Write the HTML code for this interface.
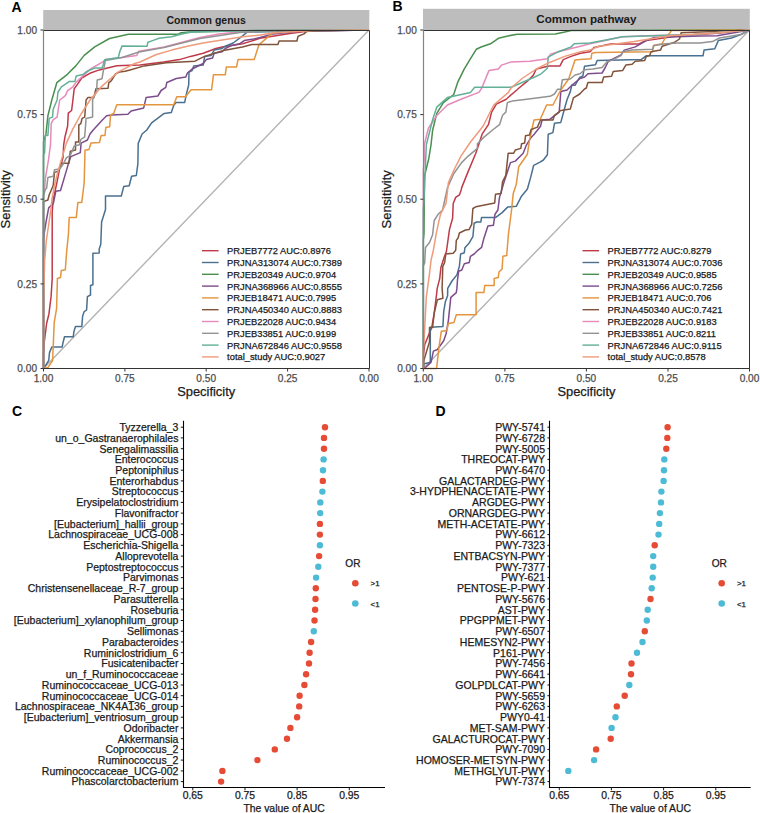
<!DOCTYPE html><html><head><meta charset="utf-8"><style>html,body{margin:0;padding:0;background:#fff;width:760px;height:813px;overflow:hidden}svg{display:block}text{font-family:"Liberation Sans",sans-serif}</style></head><body>
<svg width="760" height="813" viewBox="0 0 760 813">
<rect width="760" height="813" fill="#fff"/>
<rect x="43.2" y="10.0" width="326.1" height="20.0" fill="#bdbdbd"/>
<text x="206.2" y="23.7" font-size="10.5" text-anchor="middle" font-weight="bold" fill="#1a1a1a"  >Common genus</text>
<line x1="43.5" y1="368.5" x2="369.0" y2="30.0" stroke="#b3b3b3" stroke-width="1.4"/>
<polyline points="43.5,368.5 43.5,362.0 43.3,356.3 44.4,340.8 46.7,323.0 48.9,314.2 51.1,296.4 52.2,278.7 52.2,212.2 53.2,200.0 57.1,181.6 59.7,168.4 63.0,157.9 63.7,144.7 65.0,136.8 67.6,126.3 68.3,113.2 71.6,110.5 72.9,100.0 74.2,88.8 77.6,84.1 81.7,78.0 89.8,73.3 99.3,69.9 107.4,67.9 116.9,65.8 130.0,65.2 140.0,65.0 163.7,62.0 179.5,59.6 190.5,56.4 203.2,53.3 215.8,48.5 222.1,46.9 231.6,45.4 242.6,43.8 250.5,41.4 260.0,38.3 289.8,33.5 308.7,31.0 369.0,30.0" fill="none" stroke="#bf3a48" stroke-width="1.5" stroke-linejoin="round" stroke-opacity="1.0"/>
<polyline points="43.5,368.5 44.7,366.8 48.7,360.5 49.5,352.6 51.8,347.1 62.1,347.1 62.9,343.2 64.5,336.8 73.2,336.8 74.0,331.3 75.5,326.6 81.8,326.6 82.6,316.3 84.2,311.6 86.6,310.0 87.4,296.6 90.5,295.0 90.5,285.5 92.9,284.7 92.9,253.2 99.2,253.0 99.2,249.0 100.8,244.2 101.6,222.0 105.5,209.5 105.5,196.0 121.3,196.0 123.7,186.6 129.2,185.8 131.6,176.3 136.3,175.5 137.9,163.7 138.2,143.4 142.1,134.0 146.8,130.0 151.6,122.9 164.2,113.4 171.3,112.6 173.7,105.5 176.1,102.4 184.7,102.4 186.3,94.5 188.7,85.0 189.0,72.2 192.1,70.6 193.7,65.9 203.2,65.1 204.7,56.4 211.0,55.6 214.2,50.1 222.1,48.5 225.3,46.2 233.2,43.0 242.6,35.9 247.4,32.0 369.0,30.0" fill="none" stroke="#4a7090" stroke-width="1.5" stroke-linejoin="round" stroke-opacity="1.0"/>
<polyline points="43.5,368.5 43.5,142.0 45.9,134.2 47.9,115.8 51.8,100.0 56.8,82.7 67.4,74.3 75.8,65.9 84.2,55.4 94.7,46.9 109.5,38.5 128.4,34.3 149.5,34.3 177.9,34.3 181.0,32.7 189.0,32.0 260.0,30.4 369.0,30.0" fill="none" stroke="#4a8f4e" stroke-width="1.5" stroke-linejoin="round" stroke-opacity="1.0"/>
<polyline points="43.5,368.5 43.5,240.0 44.0,234.7 46.3,220.5 48.7,207.9 53.4,203.2 55.8,191.3 60.5,190.5 66.1,171.6 68.4,163.7 70.8,156.6 80.3,152.6 81.1,143.2 87.4,140.0 90.0,134.0 93.2,130.0 102.6,119.7 106.6,115.8 111.3,115.0 127.9,114.2 131.1,111.0 143.7,107.9 146.1,97.6 157.9,96.0 161.1,90.5 165.8,87.4 166.8,82.5 176.3,78.5 185.8,77.0 187.4,73.0 192.1,69.0 203.2,63.5 206.3,59.6 212.6,58.0 214.2,53.3 222.1,51.7 225.3,48.5 231.6,45.4 239.5,43.8 244.2,40.6 253.7,39.0 260.0,37.5 273.2,33.9 304.0,30.8 369.0,30.0" fill="none" stroke="#7d4c8c" stroke-width="1.5" stroke-linejoin="round" stroke-opacity="1.0"/>
<polyline points="43.5,368.5 47.9,367.6 52.6,360.5 54.2,322.6 56.6,308.4 57.4,278.4 60.5,277.6 61.3,270.5 65.3,269.7 66.8,250.0 68.4,234.7 69.2,217.4 76.3,217.4 77.9,202.4 81.8,202.4 84.2,182.6 85.0,150.3 89.0,149.5 91.0,143.0 99.5,142.6 101.1,135.5 105.0,135.5 105.8,127.6 109.7,126.8 110.5,115.0 113.7,113.4 116.8,104.7 173.7,104.7 176.8,96.8 185.5,96.8 191.1,89.7 211.6,89.7 213.5,74.7 225.3,74.7 226.3,67.1 236.5,67.1 238.1,59.5 254.2,59.5 259.0,44.6 266.1,38.7 273.2,32.3 275.6,30.4 369.0,30.0" fill="none" stroke="#e3953f" stroke-width="1.5" stroke-linejoin="round" stroke-opacity="1.0"/>
<polyline points="43.5,368.5 43.5,201.6 47.9,200.0 49.2,194.7 53.2,185.5 54.5,172.4 58.4,171.1 61.1,163.2 68.9,163.2 70.3,151.3 75.5,150.0 75.5,142.1 78.8,142.1 78.8,125.0 80.8,123.7 82.1,118.4 84.7,117.1 86.1,100.0 87.8,97.6 93.8,97.6 95.9,88.8 108.1,88.2 108.7,82.8 111.4,80.7 115.5,74.0 119.6,71.9 125.0,71.2 130.0,69.9 144.2,65.9 166.3,62.7 195.0,61.2 204.5,56.4 223.4,50.5 242.4,47.0 251.9,44.6 277.9,44.6 279.1,41.0 296.9,41.0 298.1,36.3 304.0,33.9 306.4,31.6 318.2,30.4 369.0,30.0" fill="none" stroke="#80533a" stroke-width="1.5" stroke-linejoin="round" stroke-opacity="1.0"/>
<polyline points="43.5,368.5 43.5,195.0 44.6,189.5 45.3,178.9 46.6,171.1 48.6,159.2 50.5,144.7 51.2,123.7 53.2,119.7 57.1,117.1 59.7,100.0 65.4,95.6 67.4,90.9 72.9,86.8 76.2,82.1 90.5,69.0 103.2,61.7 105.3,59.6 122.1,57.5 136.8,55.4 139.0,51.2 164.2,47.0 200.0,37.5 218.7,33.9 242.4,31.6 266.1,30.4 369.0,30.0" fill="none" stroke="#e68abb" stroke-width="1.5" stroke-linejoin="round" stroke-opacity="1.0"/>
<polyline points="43.5,368.5 43.5,196.0 45.3,189.5 46.6,188.2 47.9,177.6 53.2,176.3 54.5,169.7 59.7,169.0 63.7,163.2 66.3,157.9 70.3,155.3 74.2,146.1 79.5,144.7 80.8,139.5 84.7,136.8 86.1,118.4 92.6,117.1 92.6,100.0 93.2,98.3 96.6,91.6 97.2,80.0 102.0,78.7 103.3,71.2 105.4,60.4 122.0,57.5 139.0,52.0 164.0,47.5 200.0,38.5 240.0,32.5 280.0,30.5 369.0,30.0" fill="none" stroke="#939393" stroke-width="1.5" stroke-linejoin="round" stroke-opacity="1.0"/>
<polyline points="43.5,368.5 43.5,155.0 44.6,152.6 45.3,135.5 47.9,135.5 49.2,118.4 52.5,117.1 53.2,109.2 57.1,100.0 58.0,92.0 61.4,86.8 69.5,81.4 74.9,81.4 76.2,76.0 83.0,74.6 87.1,71.2 95.2,67.9 102.0,67.9 103.3,64.5 104.7,59.7 112.8,58.4 118.2,57.7 120.0,51.0 122.1,45.9 147.1,46.2 147.9,42.2 152.6,40.6 159.0,38.3 171.6,36.7 177.9,35.1 184.2,33.5 192.1,32.0 260.0,30.5 369.0,30.0" fill="none" stroke="#62b098" stroke-width="1.5" stroke-linejoin="round" stroke-opacity="1.0"/>
<polyline points="43.5,368.5 43.5,300.0 44.7,260.0 46.3,241.0 51.1,207.9 51.8,200.0 54.5,185.5 58.4,169.7 62.4,156.6 66.3,143.4 72.9,128.9 80.8,114.5 90.0,100.0 101.1,86.9 117.9,72.2 134.7,63.5 140.0,62.0 155.8,54.8 171.6,50.1 187.4,46.2 203.2,43.0 219.0,40.6 242.6,36.7 260.0,35.1 273.2,33.0 313.5,30.4 369.0,30.0" fill="none" stroke="#ee9b7c" stroke-width="1.5" stroke-linejoin="round" stroke-opacity="1.0"/>
<polyline points="43.5,30.5 369.5,30.5 369.5,368.5 43.5,368.5" fill="none" stroke="#333333" stroke-width="1"/>
<line x1="43.5" y1="30.0" x2="43.5" y2="368.5" stroke="#858585" stroke-width="1.2"/>
<line x1="40.5" y1="368.5" x2="43.5" y2="368.5" stroke="#333" stroke-width="1"/>
<text x="37.0" y="372.1" font-size="10.1" text-anchor="end" font-weight="normal" fill="#4d4d4d" stroke="#4d4d4d" stroke-width="0.25" >0.00</text>
<line x1="40.5" y1="283.9" x2="43.5" y2="283.9" stroke="#333" stroke-width="1"/>
<text x="37.0" y="287.5" font-size="10.1" text-anchor="end" font-weight="normal" fill="#4d4d4d" stroke="#4d4d4d" stroke-width="0.25" >0.25</text>
<line x1="40.5" y1="199.2" x2="43.5" y2="199.2" stroke="#333" stroke-width="1"/>
<text x="37.0" y="202.8" font-size="10.1" text-anchor="end" font-weight="normal" fill="#4d4d4d" stroke="#4d4d4d" stroke-width="0.25" >0.50</text>
<line x1="40.5" y1="114.6" x2="43.5" y2="114.6" stroke="#333" stroke-width="1"/>
<text x="37.0" y="118.2" font-size="10.1" text-anchor="end" font-weight="normal" fill="#4d4d4d" stroke="#4d4d4d" stroke-width="0.25" >0.75</text>
<line x1="40.5" y1="30.0" x2="43.5" y2="30.0" stroke="#333" stroke-width="1"/>
<text x="37.0" y="33.6" font-size="10.1" text-anchor="end" font-weight="normal" fill="#4d4d4d" stroke="#4d4d4d" stroke-width="0.25" >1.00</text>
<line x1="43.5" y1="368.5" x2="43.5" y2="371.5" stroke="#333" stroke-width="1"/>
<text x="43.5" y="381.8" font-size="10.1" text-anchor="middle" font-weight="normal" fill="#4d4d4d" stroke="#4d4d4d" stroke-width="0.25" >1.00</text>
<line x1="124.9" y1="368.5" x2="124.9" y2="371.5" stroke="#333" stroke-width="1"/>
<text x="124.9" y="381.8" font-size="10.1" text-anchor="middle" font-weight="normal" fill="#4d4d4d" stroke="#4d4d4d" stroke-width="0.25" >0.75</text>
<line x1="206.2" y1="368.5" x2="206.2" y2="371.5" stroke="#333" stroke-width="1"/>
<text x="206.2" y="381.8" font-size="10.1" text-anchor="middle" font-weight="normal" fill="#4d4d4d" stroke="#4d4d4d" stroke-width="0.25" >0.50</text>
<line x1="287.6" y1="368.5" x2="287.6" y2="371.5" stroke="#333" stroke-width="1"/>
<text x="287.6" y="381.8" font-size="10.1" text-anchor="middle" font-weight="normal" fill="#4d4d4d" stroke="#4d4d4d" stroke-width="0.25" >0.25</text>
<line x1="369.0" y1="368.5" x2="369.0" y2="371.5" stroke="#333" stroke-width="1"/>
<text x="369.0" y="381.8" font-size="10.1" text-anchor="middle" font-weight="normal" fill="#4d4d4d" stroke="#4d4d4d" stroke-width="0.25" >0.00</text>
<text x="206.2" y="395.5" font-size="12.9" text-anchor="middle" font-weight="normal" fill="#1a1a1a" stroke="#1a1a1a" stroke-width="0.25" >Specificity</text>
<text x="10.5" y="199.3" font-size="12.95" text-anchor="middle" font-weight="normal" fill="#1a1a1a" stroke="#1a1a1a" stroke-width="0.25" transform="rotate(-90 10.5 199.3)">Sensitivity</text>
<text x="11.5" y="12.0" font-size="14" text-anchor="start" font-weight="bold" fill="#000"  >A</text>
<line x1="202.0" y1="250.7" x2="218.6" y2="250.7" stroke="#bf3a48" stroke-width="1.4"/>
<text x="227.1" y="254.1" font-size="9.35" text-anchor="start" font-weight="normal" fill="#1a1a1a" stroke="#1a1a1a" stroke-width="0.25" >PRJEB7772 AUC:0.8976</text>
<line x1="202.0" y1="262.5" x2="218.6" y2="262.5" stroke="#4a7090" stroke-width="1.4"/>
<text x="227.1" y="265.9" font-size="9.35" text-anchor="start" font-weight="normal" fill="#1a1a1a" stroke="#1a1a1a" stroke-width="0.25" >PRJNA313074 AUC:0.7389</text>
<line x1="202.0" y1="274.3" x2="218.6" y2="274.3" stroke="#4a8f4e" stroke-width="1.4"/>
<text x="227.1" y="277.7" font-size="9.35" text-anchor="start" font-weight="normal" fill="#1a1a1a" stroke="#1a1a1a" stroke-width="0.25" >PRJEB20349 AUC:0.9704</text>
<line x1="202.0" y1="286.1" x2="218.6" y2="286.1" stroke="#7d4c8c" stroke-width="1.4"/>
<text x="227.1" y="289.5" font-size="9.35" text-anchor="start" font-weight="normal" fill="#1a1a1a" stroke="#1a1a1a" stroke-width="0.25" >PRJNA368966 AUC:0.8555</text>
<line x1="202.0" y1="297.9" x2="218.6" y2="297.9" stroke="#e3953f" stroke-width="1.4"/>
<text x="227.1" y="301.3" font-size="9.35" text-anchor="start" font-weight="normal" fill="#1a1a1a" stroke="#1a1a1a" stroke-width="0.25" >PRJEB18471 AUC:0.7995</text>
<line x1="202.0" y1="309.7" x2="218.6" y2="309.7" stroke="#80533a" stroke-width="1.4"/>
<text x="227.1" y="313.1" font-size="9.35" text-anchor="start" font-weight="normal" fill="#1a1a1a" stroke="#1a1a1a" stroke-width="0.25" >PRJNA450340 AUC:0.8883</text>
<line x1="202.0" y1="321.5" x2="218.6" y2="321.5" stroke="#e68abb" stroke-width="1.4"/>
<text x="227.1" y="324.9" font-size="9.35" text-anchor="start" font-weight="normal" fill="#1a1a1a" stroke="#1a1a1a" stroke-width="0.25" >PRJEB22028 AUC:0.9434</text>
<line x1="202.0" y1="333.3" x2="218.6" y2="333.3" stroke="#939393" stroke-width="1.4"/>
<text x="227.1" y="336.7" font-size="9.35" text-anchor="start" font-weight="normal" fill="#1a1a1a" stroke="#1a1a1a" stroke-width="0.25" >PRJEB33851 AUC:0.9199</text>
<line x1="202.0" y1="345.1" x2="218.6" y2="345.1" stroke="#62b098" stroke-width="1.4"/>
<text x="227.1" y="348.5" font-size="9.35" text-anchor="start" font-weight="normal" fill="#1a1a1a" stroke="#1a1a1a" stroke-width="0.25" >PRJNA672846 AUC:0.9558</text>
<line x1="202.0" y1="356.9" x2="218.6" y2="356.9" stroke="#ee9b7c" stroke-width="1.4"/>
<text x="227.1" y="360.3" font-size="9.35" text-anchor="start" font-weight="normal" fill="#1a1a1a" stroke="#1a1a1a" stroke-width="0.25" >total_study AUC:0.9027</text>
<rect x="423.0" y="8.8" width="326.8" height="21.2" fill="#bdbdbd"/>
<text x="586.4" y="23.4" font-size="11.65" text-anchor="middle" font-weight="bold" fill="#1a1a1a"  >Common pathway</text>
<line x1="423.3" y1="368.5" x2="749.5" y2="30.0" stroke="#b3b3b3" stroke-width="1.4"/>
<polyline points="423.3,368.5 423.3,356.0 423.9,351.1 424.7,344.7 427.9,336.8 431.8,327.4 434.2,313.2 436.6,294.2 437.2,288.4 439.7,278.6 440.9,267.5 444.0,257.7 446.4,251.5 449.5,229.4 452.6,218.3 453.2,203.5 455.7,197.4 459.4,194.9 461.2,190.0 461.6,187.9 467.9,172.1 475.8,153.2 479.0,143.7 482.1,134.2 488.4,124.7 491.6,112.1 496.3,104.2 505.8,99.5 516.8,90.0 519.0,88.0 526.8,81.7 533.2,75.4 536.3,69.0 548.9,65.9 560.0,65.9 563.2,59.6 571.1,56.4 580.5,53.3 590.0,51.7 594.0,47.5 610.5,44.0 639.0,44.0 646.1,40.4 679.3,35.7 717.2,33.3 749.5,30.0" fill="none" stroke="#bf3a48" stroke-width="1.5" stroke-linejoin="round" stroke-opacity="1.0"/>
<polyline points="423.3,368.5 424.0,363.7 430.3,362.5 430.3,327.2 442.9,326.6 443.7,311.6 445.3,302.1 447.6,295.8 447.7,288.4 452.0,281.0 456.9,274.9 459.4,266.3 460.6,254.0 464.3,252.7 464.9,247.8 469.2,242.9 472.9,236.7 474.1,223.2 476.6,222.0 480.8,222.0 481.6,217.4 495.8,217.4 502.1,212.6 507.6,207.1 516.3,206.3 521.1,196.8 527.4,189.0 530.5,177.9 533.7,165.3 540.0,162.1 543.4,160.0 547.4,154.7 548.2,134.2 552.9,132.6 554.5,123.2 560.8,122.4 564.0,110.5 567.1,99.5 570.3,91.6 571.8,85.3 575.0,85.3 579.7,77.4 582.9,75.8 584.5,66.3 595.5,64.7 597.1,60.5 641.4,59.4 646.1,55.8 703.0,55.8 704.1,49.9 714.8,48.7 718.4,40.4 731.4,38.0 740.9,34.5 749.5,30.0" fill="none" stroke="#4a7090" stroke-width="1.5" stroke-linejoin="round" stroke-opacity="1.0"/>
<polyline points="423.3,368.5 423.3,240.0 424.0,234.0 424.5,176.0 428.7,159.0 431.0,145.0 432.6,130.3 436.8,113.4 443.2,102.9 453.7,94.5 457.9,81.8 464.2,69.2 470.5,58.7 476.3,49.3 481.1,47.0 490.5,43.8 498.4,38.3 507.9,35.9 517.4,34.3 555.3,34.0 564.7,32.0 571.1,30.4 749.5,30.0" fill="none" stroke="#4a8f4e" stroke-width="1.5" stroke-linejoin="round" stroke-opacity="1.0"/>
<polyline points="423.3,368.5 426.3,366.8 431.1,362.1 433.4,351.1 437.4,349.5 443.7,340.8 446.1,333.7 448.4,320.3 450.8,297.4 456.3,292.6 456.9,288.4 457.5,279.8 458.7,271.2 461.8,270.0 464.3,263.8 469.2,262.6 470.4,256.4 474.1,254.0 477.8,250.3 481.6,247.4 481.6,247.4 484.0,237.9 487.9,226.1 493.4,225.3 495.0,214.2 497.9,210.0 499.5,197.4 504.2,181.6 510.5,162.6 515.3,161.1 523.2,153.2 526.3,145.3 531.1,137.4 534.2,134.2 540.5,126.3 542.1,120.0 550.0,119.2 559.2,112.1 560.8,91.6 567.1,90.0 571.8,85.3 580.0,78.5 584.7,77.0 587.9,73.8 602.1,73.0 605.3,67.5 608.4,61.2 621.0,54.8 624.2,50.1 635.3,46.9 646.3,40.6 654.2,37.5 700.0,35.9 717.2,35.7 749.5,30.0" fill="none" stroke="#7d4c8c" stroke-width="1.5" stroke-linejoin="round" stroke-opacity="1.0"/>
<polyline points="423.3,368.5 436.6,368.5 438.9,347.9 441.3,331.3 446.8,330.5 448.4,323.4 453.9,322.6 456.3,314.7 476.1,314.7 476.1,292.6 483.9,292.6 484.7,285.5 494.2,285.5 494.2,278.4 498.2,277.6 499.0,272.1 502.1,268.9 502.9,256.3 506.8,255.5 506.8,253.7 508.4,234.7 511.6,209.5 513.2,193.7 516.3,184.2 518.7,166.8 527.4,154.2 529.5,140.0 534.0,120.0 540.3,119.2 546.6,105.0 552.9,105.0 560.8,90.0 568.7,79.0 575.0,60.0 580.0,59.5 591.0,58.8 591.8,53.3 595.8,52.5 652.6,51.7 653.4,45.4 662.1,43.8 665.3,37.5 670.0,32.7 671.6,30.4 749.5,30.0" fill="none" stroke="#e3953f" stroke-width="1.5" stroke-linejoin="round" stroke-opacity="1.0"/>
<polyline points="423.3,368.5 424.0,360.0 429.5,341.6 429.5,327.4 432.6,327.4 434.2,313.2 437.4,299.7 442.9,298.2 442.1,288.4 442.8,266.3 444.6,262.6 445.8,254.0 453.2,253.3 455.7,250.3 456.3,240.4 458.1,238.0 459.4,233.0 465.5,230.0 469.2,229.4 471.7,224.4 472.9,208.5 475.8,206.8 494.7,202.9 495.5,194.2 501.1,193.4 502.6,181.6 505.8,175.3 508.2,153.2 513.7,153.2 515.3,150.0 520.8,148.4 521.6,143.7 524.7,142.9 525.5,135.8 529.5,135.0 531.1,129.5 537.4,127.1 540.5,120.0 550.0,120.0 552.9,120.0 554.5,115.3 560.8,110.5 570.3,109.0 573.4,97.9 579.7,94.0 584.5,89.0 586.3,88.0 587.9,82.5 602.1,82.5 603.7,77.0 611.6,76.2 613.2,71.4 622.6,70.6 625.8,65.1 632.1,64.3 635.3,61.2 644.7,60.4 646.3,56.4 649.5,55.6 651.1,51.7 660.5,50.1 662.1,46.2 674.7,42.2 679.5,39.0 681.1,32.7 700.0,31.9 717.2,31.5 749.5,30.0" fill="none" stroke="#80533a" stroke-width="1.5" stroke-linejoin="round" stroke-opacity="1.0"/>
<polyline points="423.3,368.5 423.3,170.0 424.2,160.0 424.2,145.0 428.4,128.2 436.8,115.5 447.4,105.0 462.1,98.7 478.9,92.4 481.8,88.0 488.9,70.6 498.4,69.0 501.6,65.1 511.1,61.9 530.0,61.2 547.4,58.8 550.5,54.1 558.4,51.7 571.1,48.5 580.5,46.2 590.0,43.8 622.4,36.8 646.1,35.7 693.5,34.5 749.5,30.0" fill="none" stroke="#e68abb" stroke-width="1.5" stroke-linejoin="round" stroke-opacity="1.0"/>
<polyline points="423.3,368.5 423.3,266.0 424.7,262.6 425.5,247.4 429.5,242.6 432.6,234.7 434.2,220.5 438.2,214.2 442.6,210.0 447.4,187.9 453.7,173.7 461.6,162.6 467.9,156.3 477.4,148.4 477.4,143.7 483.7,137.4 493.2,129.5 499.5,124.7 502.6,115.3 505.8,112.1 507.4,102.6 512.1,101.1 524.7,99.5 550.0,96.3 554.5,94.0 557.6,89.2 560.8,89.2 562.4,79.7 570.3,79.0 575.0,75.0 580.0,73.8 584.7,69.8 592.6,69.0 602.1,67.5 606.8,62.0 611.6,60.4 621.0,55.6 622.6,51.7 632.1,50.1 652.6,49.3 654.2,45.4 665.3,43.8 677.9,43.0 700.0,43.0 712.4,41.6 719.5,38.0 740.9,34.5 749.5,30.0" fill="none" stroke="#939393" stroke-width="1.5" stroke-linejoin="round" stroke-opacity="1.0"/>
<polyline points="423.3,368.5 423.3,210.0 424.0,200.0 426.3,145.0 432.6,119.7 436.8,107.1 447.4,97.6 470.5,92.4 474.7,87.2 511.1,87.2 522.1,82.5 534.7,77.0 541.1,73.8 547.4,68.3 548.2,57.2 558.4,51.7 571.1,46.9 574.2,43.8 590.0,43.0 603.4,40.4 622.4,36.8 693.5,34.5 749.5,30.0" fill="none" stroke="#62b098" stroke-width="1.5" stroke-linejoin="round" stroke-opacity="1.0"/>
<polyline points="423.3,368.5 423.3,350.0 424.0,341.6 426.3,297.4 429.5,273.7 431.1,260.0 433.4,250.0 436.6,231.6 440.5,214.2 446.1,203.2 448.4,182.6 453.9,170.0 461.1,155.8 470.5,142.0 483.2,126.0 493.7,105.0 508.4,92.4 511.1,88.0 522.1,78.5 536.3,69.0 548.9,62.7 564.7,56.4 580.5,51.7 590.0,50.1 598.7,46.3 634.2,41.6 669.8,35.7 717.2,32.8 749.5,30.0" fill="none" stroke="#ee9b7c" stroke-width="1.5" stroke-linejoin="round" stroke-opacity="1.0"/>
<polyline points="423.5,30.5 749.5,30.5 749.5,368.5 423.5,368.5" fill="none" stroke="#333333" stroke-width="1"/>
<line x1="423.5" y1="30.0" x2="423.5" y2="368.5" stroke="#858585" stroke-width="1.2"/>
<line x1="420.3" y1="368.5" x2="423.3" y2="368.5" stroke="#333" stroke-width="1"/>
<text x="416.8" y="372.1" font-size="10.1" text-anchor="end" font-weight="normal" fill="#4d4d4d" stroke="#4d4d4d" stroke-width="0.25" >0.00</text>
<line x1="420.3" y1="283.9" x2="423.3" y2="283.9" stroke="#333" stroke-width="1"/>
<text x="416.8" y="287.5" font-size="10.1" text-anchor="end" font-weight="normal" fill="#4d4d4d" stroke="#4d4d4d" stroke-width="0.25" >0.25</text>
<line x1="420.3" y1="199.2" x2="423.3" y2="199.2" stroke="#333" stroke-width="1"/>
<text x="416.8" y="202.8" font-size="10.1" text-anchor="end" font-weight="normal" fill="#4d4d4d" stroke="#4d4d4d" stroke-width="0.25" >0.50</text>
<line x1="420.3" y1="114.6" x2="423.3" y2="114.6" stroke="#333" stroke-width="1"/>
<text x="416.8" y="118.2" font-size="10.1" text-anchor="end" font-weight="normal" fill="#4d4d4d" stroke="#4d4d4d" stroke-width="0.25" >0.75</text>
<line x1="420.3" y1="30.0" x2="423.3" y2="30.0" stroke="#333" stroke-width="1"/>
<text x="416.8" y="33.6" font-size="10.1" text-anchor="end" font-weight="normal" fill="#4d4d4d" stroke="#4d4d4d" stroke-width="0.25" >1.00</text>
<line x1="423.3" y1="368.5" x2="423.3" y2="371.5" stroke="#333" stroke-width="1"/>
<text x="423.3" y="381.8" font-size="10.1" text-anchor="middle" font-weight="normal" fill="#4d4d4d" stroke="#4d4d4d" stroke-width="0.25" >1.00</text>
<line x1="504.9" y1="368.5" x2="504.9" y2="371.5" stroke="#333" stroke-width="1"/>
<text x="504.9" y="381.8" font-size="10.1" text-anchor="middle" font-weight="normal" fill="#4d4d4d" stroke="#4d4d4d" stroke-width="0.25" >0.75</text>
<line x1="586.4" y1="368.5" x2="586.4" y2="371.5" stroke="#333" stroke-width="1"/>
<text x="586.4" y="381.8" font-size="10.1" text-anchor="middle" font-weight="normal" fill="#4d4d4d" stroke="#4d4d4d" stroke-width="0.25" >0.50</text>
<line x1="668.0" y1="368.5" x2="668.0" y2="371.5" stroke="#333" stroke-width="1"/>
<text x="668.0" y="381.8" font-size="10.1" text-anchor="middle" font-weight="normal" fill="#4d4d4d" stroke="#4d4d4d" stroke-width="0.25" >0.25</text>
<line x1="749.5" y1="368.5" x2="749.5" y2="371.5" stroke="#333" stroke-width="1"/>
<text x="749.5" y="381.8" font-size="10.1" text-anchor="middle" font-weight="normal" fill="#4d4d4d" stroke="#4d4d4d" stroke-width="0.25" >0.00</text>
<text x="586.4" y="395.5" font-size="12.9" text-anchor="middle" font-weight="normal" fill="#1a1a1a" stroke="#1a1a1a" stroke-width="0.25" >Specificity</text>
<text x="391.3" y="199.3" font-size="12.95" text-anchor="middle" font-weight="normal" fill="#1a1a1a" stroke="#1a1a1a" stroke-width="0.25" transform="rotate(-90 391.3 199.3)">Sensitivity</text>
<text x="392.5" y="10.9" font-size="14" text-anchor="start" font-weight="bold" fill="#000"  >B</text>
<line x1="582.5" y1="250.7" x2="599.1" y2="250.7" stroke="#bf3a48" stroke-width="1.4"/>
<text x="607.6" y="254.1" font-size="9.35" text-anchor="start" font-weight="normal" fill="#1a1a1a" stroke="#1a1a1a" stroke-width="0.25" >PRJEB7772 AUC:0.8279</text>
<line x1="582.5" y1="262.5" x2="599.1" y2="262.5" stroke="#4a7090" stroke-width="1.4"/>
<text x="607.6" y="265.9" font-size="9.35" text-anchor="start" font-weight="normal" fill="#1a1a1a" stroke="#1a1a1a" stroke-width="0.25" >PRJNA313074 AUC:0.7036</text>
<line x1="582.5" y1="274.3" x2="599.1" y2="274.3" stroke="#4a8f4e" stroke-width="1.4"/>
<text x="607.6" y="277.7" font-size="9.35" text-anchor="start" font-weight="normal" fill="#1a1a1a" stroke="#1a1a1a" stroke-width="0.25" >PRJEB20349 AUC:0.9585</text>
<line x1="582.5" y1="286.1" x2="599.1" y2="286.1" stroke="#7d4c8c" stroke-width="1.4"/>
<text x="607.6" y="289.5" font-size="9.35" text-anchor="start" font-weight="normal" fill="#1a1a1a" stroke="#1a1a1a" stroke-width="0.25" >PRJNA368966 AUC:0.7256</text>
<line x1="582.5" y1="297.9" x2="599.1" y2="297.9" stroke="#e3953f" stroke-width="1.4"/>
<text x="607.6" y="301.3" font-size="9.35" text-anchor="start" font-weight="normal" fill="#1a1a1a" stroke="#1a1a1a" stroke-width="0.25" >PRJEB18471 AUC:0.706</text>
<line x1="582.5" y1="309.7" x2="599.1" y2="309.7" stroke="#80533a" stroke-width="1.4"/>
<text x="607.6" y="313.1" font-size="9.35" text-anchor="start" font-weight="normal" fill="#1a1a1a" stroke="#1a1a1a" stroke-width="0.25" >PRJNA450340 AUC:0.7421</text>
<line x1="582.5" y1="321.5" x2="599.1" y2="321.5" stroke="#e68abb" stroke-width="1.4"/>
<text x="607.6" y="324.9" font-size="9.35" text-anchor="start" font-weight="normal" fill="#1a1a1a" stroke="#1a1a1a" stroke-width="0.25" >PRJEB22028 AUC:0.9183</text>
<line x1="582.5" y1="333.3" x2="599.1" y2="333.3" stroke="#939393" stroke-width="1.4"/>
<text x="607.6" y="336.7" font-size="9.35" text-anchor="start" font-weight="normal" fill="#1a1a1a" stroke="#1a1a1a" stroke-width="0.25" >PRJEB33851 AUC:0.8211</text>
<line x1="582.5" y1="345.1" x2="599.1" y2="345.1" stroke="#62b098" stroke-width="1.4"/>
<text x="607.6" y="348.5" font-size="9.35" text-anchor="start" font-weight="normal" fill="#1a1a1a" stroke="#1a1a1a" stroke-width="0.25" >PRJNA672846 AUC:0.9115</text>
<line x1="582.5" y1="356.9" x2="599.1" y2="356.9" stroke="#ee9b7c" stroke-width="1.4"/>
<text x="607.6" y="360.3" font-size="9.35" text-anchor="start" font-weight="normal" fill="#1a1a1a" stroke="#1a1a1a" stroke-width="0.25" >total_study AUC:0.8578</text>
<line x1="180.8" y1="427.2" x2="183.3" y2="427.2" stroke="#1a1a1a" stroke-width="1"/>
<text x="178.4" y="431.0" font-size="10.5" text-anchor="end" font-weight="normal" fill="#1a1a1a" stroke="#1a1a1a" stroke-width="0.25" >Tyzzerella_3</text>
<circle cx="325.0" cy="427.2" r="3.2" fill="#E64B35"/>
<line x1="180.8" y1="437.9" x2="183.3" y2="437.9" stroke="#1a1a1a" stroke-width="1"/>
<text x="178.4" y="441.7" font-size="10.5" text-anchor="end" font-weight="normal" fill="#1a1a1a" stroke="#1a1a1a" stroke-width="0.25" >un_o_Gastranaerophilales</text>
<circle cx="324.0" cy="437.9" r="3.2" fill="#E64B35"/>
<line x1="180.8" y1="448.7" x2="183.3" y2="448.7" stroke="#1a1a1a" stroke-width="1"/>
<text x="178.4" y="452.5" font-size="10.5" text-anchor="end" font-weight="normal" fill="#1a1a1a" stroke="#1a1a1a" stroke-width="0.25" >Senegalimassilia</text>
<circle cx="324.0" cy="448.7" r="3.2" fill="#E64B35"/>
<line x1="180.8" y1="459.4" x2="183.3" y2="459.4" stroke="#1a1a1a" stroke-width="1"/>
<text x="178.4" y="463.2" font-size="10.5" text-anchor="end" font-weight="normal" fill="#1a1a1a" stroke="#1a1a1a" stroke-width="0.25" >Enterococcus</text>
<circle cx="323.6" cy="459.4" r="3.2" fill="#4DBBD5"/>
<line x1="180.8" y1="470.2" x2="183.3" y2="470.2" stroke="#1a1a1a" stroke-width="1"/>
<text x="178.4" y="474.0" font-size="10.5" text-anchor="end" font-weight="normal" fill="#1a1a1a" stroke="#1a1a1a" stroke-width="0.25" >Peptoniphilus</text>
<circle cx="323.0" cy="470.2" r="3.2" fill="#4DBBD5"/>
<line x1="180.8" y1="480.9" x2="183.3" y2="480.9" stroke="#1a1a1a" stroke-width="1"/>
<text x="178.4" y="484.7" font-size="10.5" text-anchor="end" font-weight="normal" fill="#1a1a1a" stroke="#1a1a1a" stroke-width="0.25" >Enterorhabdus</text>
<circle cx="322.8" cy="480.9" r="3.2" fill="#E64B35"/>
<line x1="180.8" y1="491.6" x2="183.3" y2="491.6" stroke="#1a1a1a" stroke-width="1"/>
<text x="178.4" y="495.4" font-size="10.5" text-anchor="end" font-weight="normal" fill="#1a1a1a" stroke="#1a1a1a" stroke-width="0.25" >Streptococcus</text>
<circle cx="322.4" cy="491.6" r="3.2" fill="#4DBBD5"/>
<line x1="180.8" y1="502.4" x2="183.3" y2="502.4" stroke="#1a1a1a" stroke-width="1"/>
<text x="178.4" y="506.2" font-size="10.5" text-anchor="end" font-weight="normal" fill="#1a1a1a" stroke="#1a1a1a" stroke-width="0.25" >Erysipelatoclostridium</text>
<circle cx="320.3" cy="502.4" r="3.2" fill="#4DBBD5"/>
<line x1="180.8" y1="513.1" x2="183.3" y2="513.1" stroke="#1a1a1a" stroke-width="1"/>
<text x="178.4" y="516.9" font-size="10.5" text-anchor="end" font-weight="normal" fill="#1a1a1a" stroke="#1a1a1a" stroke-width="0.25" >Flavonifractor</text>
<circle cx="320.2" cy="513.1" r="3.2" fill="#4DBBD5"/>
<line x1="180.8" y1="523.9" x2="183.3" y2="523.9" stroke="#1a1a1a" stroke-width="1"/>
<text x="178.4" y="527.7" font-size="10.5" text-anchor="end" font-weight="normal" fill="#1a1a1a" stroke="#1a1a1a" stroke-width="0.25" >[Eubacterium]_hallii_group</text>
<circle cx="319.9" cy="523.9" r="3.2" fill="#E64B35"/>
<line x1="180.8" y1="534.6" x2="183.3" y2="534.6" stroke="#1a1a1a" stroke-width="1"/>
<text x="178.4" y="538.4" font-size="10.5" text-anchor="end" font-weight="normal" fill="#1a1a1a" stroke="#1a1a1a" stroke-width="0.25" >Lachnospiraceae_UCG-008</text>
<circle cx="319.9" cy="534.6" r="3.2" fill="#E64B35"/>
<line x1="180.8" y1="545.3" x2="183.3" y2="545.3" stroke="#1a1a1a" stroke-width="1"/>
<text x="178.4" y="549.1" font-size="10.5" text-anchor="end" font-weight="normal" fill="#1a1a1a" stroke="#1a1a1a" stroke-width="0.25" >Escherichia-Shigella</text>
<circle cx="319.9" cy="545.3" r="3.2" fill="#4DBBD5"/>
<line x1="180.8" y1="556.1" x2="183.3" y2="556.1" stroke="#1a1a1a" stroke-width="1"/>
<text x="178.4" y="559.9" font-size="10.5" text-anchor="end" font-weight="normal" fill="#1a1a1a" stroke="#1a1a1a" stroke-width="0.25" >Alloprevotella</text>
<circle cx="319.1" cy="556.1" r="3.2" fill="#E64B35"/>
<line x1="180.8" y1="566.8" x2="183.3" y2="566.8" stroke="#1a1a1a" stroke-width="1"/>
<text x="178.4" y="570.6" font-size="10.5" text-anchor="end" font-weight="normal" fill="#1a1a1a" stroke="#1a1a1a" stroke-width="0.25" >Peptostreptococcus</text>
<circle cx="318.3" cy="566.8" r="3.2" fill="#4DBBD5"/>
<line x1="180.8" y1="577.6" x2="183.3" y2="577.6" stroke="#1a1a1a" stroke-width="1"/>
<text x="178.4" y="581.4" font-size="10.5" text-anchor="end" font-weight="normal" fill="#1a1a1a" stroke="#1a1a1a" stroke-width="0.25" >Parvimonas</text>
<circle cx="316.1" cy="577.6" r="3.2" fill="#4DBBD5"/>
<line x1="180.8" y1="588.3" x2="183.3" y2="588.3" stroke="#1a1a1a" stroke-width="1"/>
<text x="178.4" y="592.1" font-size="10.5" text-anchor="end" font-weight="normal" fill="#1a1a1a" stroke="#1a1a1a" stroke-width="0.25" >Christensenellaceae_R-7_group</text>
<circle cx="315.8" cy="588.3" r="3.2" fill="#E64B35"/>
<line x1="180.8" y1="599.0" x2="183.3" y2="599.0" stroke="#1a1a1a" stroke-width="1"/>
<text x="178.4" y="602.8" font-size="10.5" text-anchor="end" font-weight="normal" fill="#1a1a1a" stroke="#1a1a1a" stroke-width="0.25" >Parasutterella</text>
<circle cx="315.5" cy="599.0" r="3.2" fill="#E64B35"/>
<line x1="180.8" y1="609.8" x2="183.3" y2="609.8" stroke="#1a1a1a" stroke-width="1"/>
<text x="178.4" y="613.6" font-size="10.5" text-anchor="end" font-weight="normal" fill="#1a1a1a" stroke="#1a1a1a" stroke-width="0.25" >Roseburia</text>
<circle cx="315.1" cy="609.8" r="3.2" fill="#E64B35"/>
<line x1="180.8" y1="620.5" x2="183.3" y2="620.5" stroke="#1a1a1a" stroke-width="1"/>
<text x="178.4" y="624.3" font-size="10.5" text-anchor="end" font-weight="normal" fill="#1a1a1a" stroke="#1a1a1a" stroke-width="0.25" >[Eubacterium]_xylanophilum_group</text>
<circle cx="314.5" cy="620.5" r="3.2" fill="#E64B35"/>
<line x1="180.8" y1="631.3" x2="183.3" y2="631.3" stroke="#1a1a1a" stroke-width="1"/>
<text x="178.4" y="635.1" font-size="10.5" text-anchor="end" font-weight="normal" fill="#1a1a1a" stroke="#1a1a1a" stroke-width="0.25" >Sellimonas</text>
<circle cx="313.8" cy="631.3" r="3.2" fill="#4DBBD5"/>
<line x1="180.8" y1="642.0" x2="183.3" y2="642.0" stroke="#1a1a1a" stroke-width="1"/>
<text x="178.4" y="645.8" font-size="10.5" text-anchor="end" font-weight="normal" fill="#1a1a1a" stroke="#1a1a1a" stroke-width="0.25" >Parabacteroides</text>
<circle cx="311.1" cy="642.0" r="3.2" fill="#E64B35"/>
<line x1="180.8" y1="652.7" x2="183.3" y2="652.7" stroke="#1a1a1a" stroke-width="1"/>
<text x="178.4" y="656.5" font-size="10.5" text-anchor="end" font-weight="normal" fill="#1a1a1a" stroke="#1a1a1a" stroke-width="0.25" >Ruminiclostridium_6</text>
<circle cx="309.6" cy="652.7" r="3.2" fill="#E64B35"/>
<line x1="180.8" y1="663.5" x2="183.3" y2="663.5" stroke="#1a1a1a" stroke-width="1"/>
<text x="178.4" y="667.3" font-size="10.5" text-anchor="end" font-weight="normal" fill="#1a1a1a" stroke="#1a1a1a" stroke-width="0.25" >Fusicatenibacter</text>
<circle cx="309.0" cy="663.5" r="3.2" fill="#E64B35"/>
<line x1="180.8" y1="674.2" x2="183.3" y2="674.2" stroke="#1a1a1a" stroke-width="1"/>
<text x="178.4" y="678.0" font-size="10.5" text-anchor="end" font-weight="normal" fill="#1a1a1a" stroke="#1a1a1a" stroke-width="0.25" >un_f_Ruminococcaceae</text>
<circle cx="306.1" cy="674.2" r="3.2" fill="#E64B35"/>
<line x1="180.8" y1="685.0" x2="183.3" y2="685.0" stroke="#1a1a1a" stroke-width="1"/>
<text x="178.4" y="688.8" font-size="10.5" text-anchor="end" font-weight="normal" fill="#1a1a1a" stroke="#1a1a1a" stroke-width="0.25" >Ruminococcaceae_UCG-013</text>
<circle cx="304.4" cy="685.0" r="3.2" fill="#E64B35"/>
<line x1="180.8" y1="695.7" x2="183.3" y2="695.7" stroke="#1a1a1a" stroke-width="1"/>
<text x="178.4" y="699.5" font-size="10.5" text-anchor="end" font-weight="normal" fill="#1a1a1a" stroke="#1a1a1a" stroke-width="0.25" >Ruminococcaceae_UCG-014</text>
<circle cx="299.6" cy="695.7" r="3.2" fill="#E64B35"/>
<line x1="180.8" y1="706.4" x2="183.3" y2="706.4" stroke="#1a1a1a" stroke-width="1"/>
<text x="178.4" y="710.2" font-size="10.5" text-anchor="end" font-weight="normal" fill="#1a1a1a" stroke="#1a1a1a" stroke-width="0.25" >Lachnospiraceae_NK4A136_group</text>
<circle cx="299.2" cy="706.4" r="3.2" fill="#E64B35"/>
<line x1="180.8" y1="717.2" x2="183.3" y2="717.2" stroke="#1a1a1a" stroke-width="1"/>
<text x="178.4" y="721.0" font-size="10.5" text-anchor="end" font-weight="normal" fill="#1a1a1a" stroke="#1a1a1a" stroke-width="0.25" >[Eubacterium]_ventriosum_group</text>
<circle cx="297.1" cy="717.2" r="3.2" fill="#E64B35"/>
<line x1="180.8" y1="727.9" x2="183.3" y2="727.9" stroke="#1a1a1a" stroke-width="1"/>
<text x="178.4" y="731.7" font-size="10.5" text-anchor="end" font-weight="normal" fill="#1a1a1a" stroke="#1a1a1a" stroke-width="0.25" >Odoribacter</text>
<circle cx="290.4" cy="727.9" r="3.2" fill="#E64B35"/>
<line x1="180.8" y1="738.7" x2="183.3" y2="738.7" stroke="#1a1a1a" stroke-width="1"/>
<text x="178.4" y="742.5" font-size="10.5" text-anchor="end" font-weight="normal" fill="#1a1a1a" stroke="#1a1a1a" stroke-width="0.25" >Akkermansia</text>
<circle cx="287.0" cy="738.7" r="3.2" fill="#E64B35"/>
<line x1="180.8" y1="749.4" x2="183.3" y2="749.4" stroke="#1a1a1a" stroke-width="1"/>
<text x="178.4" y="753.2" font-size="10.5" text-anchor="end" font-weight="normal" fill="#1a1a1a" stroke="#1a1a1a" stroke-width="0.25" >Coprococcus_2</text>
<circle cx="274.8" cy="749.4" r="3.2" fill="#E64B35"/>
<line x1="180.8" y1="760.1" x2="183.3" y2="760.1" stroke="#1a1a1a" stroke-width="1"/>
<text x="178.4" y="763.9" font-size="10.5" text-anchor="end" font-weight="normal" fill="#1a1a1a" stroke="#1a1a1a" stroke-width="0.25" >Ruminococcus_2</text>
<circle cx="257.4" cy="760.1" r="3.2" fill="#E64B35"/>
<line x1="180.8" y1="770.9" x2="183.3" y2="770.9" stroke="#1a1a1a" stroke-width="1"/>
<text x="178.4" y="774.7" font-size="10.5" text-anchor="end" font-weight="normal" fill="#1a1a1a" stroke="#1a1a1a" stroke-width="0.25" >Ruminococcaceae_UCG-002</text>
<circle cx="222.4" cy="770.9" r="3.2" fill="#E64B35"/>
<line x1="180.8" y1="781.6" x2="183.3" y2="781.6" stroke="#1a1a1a" stroke-width="1"/>
<text x="178.4" y="785.4" font-size="10.5" text-anchor="end" font-weight="normal" fill="#1a1a1a" stroke="#1a1a1a" stroke-width="0.25" >Phascolarctobacterium</text>
<circle cx="221.1" cy="781.6" r="3.2" fill="#E64B35"/>
<polyline points="183.5,420.8 183.5,787.5 385.0,787.5" fill="none" stroke="#000" stroke-width="1.1"/>
<line x1="192.8" y1="787.5" x2="192.8" y2="790.3" stroke="#1a1a1a" stroke-width="1"/>
<text x="192.8" y="799.4" font-size="10.4" text-anchor="middle" font-weight="normal" fill="#1a1a1a" stroke="#1a1a1a" stroke-width="0.25" >0.65</text>
<line x1="245.0" y1="787.5" x2="245.0" y2="790.3" stroke="#1a1a1a" stroke-width="1"/>
<text x="245.0" y="799.4" font-size="10.4" text-anchor="middle" font-weight="normal" fill="#1a1a1a" stroke="#1a1a1a" stroke-width="0.25" >0.75</text>
<line x1="297.1" y1="787.5" x2="297.1" y2="790.3" stroke="#1a1a1a" stroke-width="1"/>
<text x="297.1" y="799.4" font-size="10.4" text-anchor="middle" font-weight="normal" fill="#1a1a1a" stroke="#1a1a1a" stroke-width="0.25" >0.85</text>
<line x1="349.3" y1="787.5" x2="349.3" y2="790.3" stroke="#1a1a1a" stroke-width="1"/>
<text x="349.3" y="799.4" font-size="10.4" text-anchor="middle" font-weight="normal" fill="#1a1a1a" stroke="#1a1a1a" stroke-width="0.25" >0.95</text>
<text x="284.1" y="811.7" font-size="10.4" text-anchor="middle" font-weight="normal" fill="#1a1a1a" stroke="#1a1a1a" stroke-width="0.25" >The value of AUC</text>
<text x="11.9" y="416.3" font-size="14" text-anchor="start" font-weight="bold" fill="#000"  >C</text>
<text x="345.3" y="566.8" font-size="10.1" text-anchor="start" font-weight="normal" fill="#1a1a1a" stroke="#1a1a1a" stroke-width="0.25" >OR</text>
<circle cx="355.3" cy="583.2" r="3.3" fill="#E64B35"/>
<circle cx="355.3" cy="603.5" r="3.3" fill="#4DBBD5"/>
<text x="370.6" y="586.2" font-size="7.9" text-anchor="start" font-weight="normal" fill="#1a1a1a" stroke="#1a1a1a" stroke-width="0.25" >&gt;1</text>
<text x="370.6" y="606.5" font-size="7.9" text-anchor="start" font-weight="normal" fill="#1a1a1a" stroke="#1a1a1a" stroke-width="0.25" >&lt;1</text>
<line x1="547.4" y1="427.2" x2="549.9" y2="427.2" stroke="#1a1a1a" stroke-width="1"/>
<text x="545.0" y="431.0" font-size="10.5" text-anchor="end" font-weight="normal" fill="#1a1a1a" stroke="#1a1a1a" stroke-width="0.25" >PWY-5741</text>
<circle cx="667.6" cy="427.2" r="3.2" fill="#E64B35"/>
<line x1="547.4" y1="437.9" x2="549.9" y2="437.9" stroke="#1a1a1a" stroke-width="1"/>
<text x="545.0" y="441.7" font-size="10.5" text-anchor="end" font-weight="normal" fill="#1a1a1a" stroke="#1a1a1a" stroke-width="0.25" >PWY-6728</text>
<circle cx="667.3" cy="437.9" r="3.2" fill="#E64B35"/>
<line x1="547.4" y1="448.7" x2="549.9" y2="448.7" stroke="#1a1a1a" stroke-width="1"/>
<text x="545.0" y="452.5" font-size="10.5" text-anchor="end" font-weight="normal" fill="#1a1a1a" stroke="#1a1a1a" stroke-width="0.25" >PWY-5005</text>
<circle cx="666.3" cy="448.7" r="3.2" fill="#E64B35"/>
<line x1="547.4" y1="459.4" x2="549.9" y2="459.4" stroke="#1a1a1a" stroke-width="1"/>
<text x="545.0" y="463.2" font-size="10.5" text-anchor="end" font-weight="normal" fill="#1a1a1a" stroke="#1a1a1a" stroke-width="0.25" >THREOCAT-PWY</text>
<circle cx="664.3" cy="459.4" r="3.2" fill="#4DBBD5"/>
<line x1="547.4" y1="470.2" x2="549.9" y2="470.2" stroke="#1a1a1a" stroke-width="1"/>
<text x="545.0" y="474.0" font-size="10.5" text-anchor="end" font-weight="normal" fill="#1a1a1a" stroke="#1a1a1a" stroke-width="0.25" >PWY-6470</text>
<circle cx="664.0" cy="470.2" r="3.2" fill="#4DBBD5"/>
<line x1="547.4" y1="480.9" x2="549.9" y2="480.9" stroke="#1a1a1a" stroke-width="1"/>
<text x="545.0" y="484.7" font-size="10.5" text-anchor="end" font-weight="normal" fill="#1a1a1a" stroke="#1a1a1a" stroke-width="0.25" >GALACTARDEG-PWY</text>
<circle cx="663.6" cy="480.9" r="3.2" fill="#4DBBD5"/>
<line x1="547.4" y1="491.6" x2="549.9" y2="491.6" stroke="#1a1a1a" stroke-width="1"/>
<text x="545.0" y="495.4" font-size="10.5" text-anchor="end" font-weight="normal" fill="#1a1a1a" stroke="#1a1a1a" stroke-width="0.25" >3-HYDPHENACETATE-PWY</text>
<circle cx="661.4" cy="491.6" r="3.2" fill="#4DBBD5"/>
<line x1="547.4" y1="502.4" x2="549.9" y2="502.4" stroke="#1a1a1a" stroke-width="1"/>
<text x="545.0" y="506.2" font-size="10.5" text-anchor="end" font-weight="normal" fill="#1a1a1a" stroke="#1a1a1a" stroke-width="0.25" >ARGDEG-PWY</text>
<circle cx="661.0" cy="502.4" r="3.2" fill="#4DBBD5"/>
<line x1="547.4" y1="513.1" x2="549.9" y2="513.1" stroke="#1a1a1a" stroke-width="1"/>
<text x="545.0" y="516.9" font-size="10.5" text-anchor="end" font-weight="normal" fill="#1a1a1a" stroke="#1a1a1a" stroke-width="0.25" >ORNARGDEG-PWY</text>
<circle cx="659.9" cy="513.1" r="3.2" fill="#4DBBD5"/>
<line x1="547.4" y1="523.9" x2="549.9" y2="523.9" stroke="#1a1a1a" stroke-width="1"/>
<text x="545.0" y="527.7" font-size="10.5" text-anchor="end" font-weight="normal" fill="#1a1a1a" stroke="#1a1a1a" stroke-width="0.25" >METH-ACETATE-PWY</text>
<circle cx="659.2" cy="523.9" r="3.2" fill="#4DBBD5"/>
<line x1="547.4" y1="534.6" x2="549.9" y2="534.6" stroke="#1a1a1a" stroke-width="1"/>
<text x="545.0" y="538.4" font-size="10.5" text-anchor="end" font-weight="normal" fill="#1a1a1a" stroke="#1a1a1a" stroke-width="0.25" >PWY-6612</text>
<circle cx="658.5" cy="534.6" r="3.2" fill="#4DBBD5"/>
<line x1="547.4" y1="545.3" x2="549.9" y2="545.3" stroke="#1a1a1a" stroke-width="1"/>
<text x="545.0" y="549.1" font-size="10.5" text-anchor="end" font-weight="normal" fill="#1a1a1a" stroke="#1a1a1a" stroke-width="0.25" >PWY-7323</text>
<circle cx="654.7" cy="545.3" r="3.2" fill="#E64B35"/>
<line x1="547.4" y1="556.1" x2="549.9" y2="556.1" stroke="#1a1a1a" stroke-width="1"/>
<text x="545.0" y="559.9" font-size="10.5" text-anchor="end" font-weight="normal" fill="#1a1a1a" stroke="#1a1a1a" stroke-width="0.25" >ENTBACSYN-PWY</text>
<circle cx="653.2" cy="556.1" r="3.2" fill="#4DBBD5"/>
<line x1="547.4" y1="566.8" x2="549.9" y2="566.8" stroke="#1a1a1a" stroke-width="1"/>
<text x="545.0" y="570.6" font-size="10.5" text-anchor="end" font-weight="normal" fill="#1a1a1a" stroke="#1a1a1a" stroke-width="0.25" >PWY-7377</text>
<circle cx="653.2" cy="566.8" r="3.2" fill="#4DBBD5"/>
<line x1="547.4" y1="577.6" x2="549.9" y2="577.6" stroke="#1a1a1a" stroke-width="1"/>
<text x="545.0" y="581.4" font-size="10.5" text-anchor="end" font-weight="normal" fill="#1a1a1a" stroke="#1a1a1a" stroke-width="0.25" >PWY-621</text>
<circle cx="652.7" cy="577.6" r="3.2" fill="#4DBBD5"/>
<line x1="547.4" y1="588.3" x2="549.9" y2="588.3" stroke="#1a1a1a" stroke-width="1"/>
<text x="545.0" y="592.1" font-size="10.5" text-anchor="end" font-weight="normal" fill="#1a1a1a" stroke="#1a1a1a" stroke-width="0.25" >PENTOSE-P-PWY</text>
<circle cx="651.7" cy="588.3" r="3.2" fill="#4DBBD5"/>
<line x1="547.4" y1="599.0" x2="549.9" y2="599.0" stroke="#1a1a1a" stroke-width="1"/>
<text x="545.0" y="602.8" font-size="10.5" text-anchor="end" font-weight="normal" fill="#1a1a1a" stroke="#1a1a1a" stroke-width="0.25" >PWY-5676</text>
<circle cx="650.5" cy="599.0" r="3.2" fill="#E64B35"/>
<line x1="547.4" y1="609.8" x2="549.9" y2="609.8" stroke="#1a1a1a" stroke-width="1"/>
<text x="545.0" y="613.6" font-size="10.5" text-anchor="end" font-weight="normal" fill="#1a1a1a" stroke="#1a1a1a" stroke-width="0.25" >AST-PWY</text>
<circle cx="647.7" cy="609.8" r="3.2" fill="#4DBBD5"/>
<line x1="547.4" y1="620.5" x2="549.9" y2="620.5" stroke="#1a1a1a" stroke-width="1"/>
<text x="545.0" y="624.3" font-size="10.5" text-anchor="end" font-weight="normal" fill="#1a1a1a" stroke="#1a1a1a" stroke-width="0.25" >PPGPPMET-PWY</text>
<circle cx="646.8" cy="620.5" r="3.2" fill="#4DBBD5"/>
<line x1="547.4" y1="631.3" x2="549.9" y2="631.3" stroke="#1a1a1a" stroke-width="1"/>
<text x="545.0" y="635.1" font-size="10.5" text-anchor="end" font-weight="normal" fill="#1a1a1a" stroke="#1a1a1a" stroke-width="0.25" >PWY-6507</text>
<circle cx="644.8" cy="631.3" r="3.2" fill="#E64B35"/>
<line x1="547.4" y1="642.0" x2="549.9" y2="642.0" stroke="#1a1a1a" stroke-width="1"/>
<text x="545.0" y="645.8" font-size="10.5" text-anchor="end" font-weight="normal" fill="#1a1a1a" stroke="#1a1a1a" stroke-width="0.25" >HEMESYN2-PWY</text>
<circle cx="642.5" cy="642.0" r="3.2" fill="#4DBBD5"/>
<line x1="547.4" y1="652.7" x2="549.9" y2="652.7" stroke="#1a1a1a" stroke-width="1"/>
<text x="545.0" y="656.5" font-size="10.5" text-anchor="end" font-weight="normal" fill="#1a1a1a" stroke="#1a1a1a" stroke-width="0.25" >P161-PWY</text>
<circle cx="637.0" cy="652.7" r="3.2" fill="#4DBBD5"/>
<line x1="547.4" y1="663.5" x2="549.9" y2="663.5" stroke="#1a1a1a" stroke-width="1"/>
<text x="545.0" y="667.3" font-size="10.5" text-anchor="end" font-weight="normal" fill="#1a1a1a" stroke="#1a1a1a" stroke-width="0.25" >PWY-7456</text>
<circle cx="631.5" cy="663.5" r="3.2" fill="#E64B35"/>
<line x1="547.4" y1="674.2" x2="549.9" y2="674.2" stroke="#1a1a1a" stroke-width="1"/>
<text x="545.0" y="678.0" font-size="10.5" text-anchor="end" font-weight="normal" fill="#1a1a1a" stroke="#1a1a1a" stroke-width="0.25" >PWY-6641</text>
<circle cx="631.0" cy="674.2" r="3.2" fill="#E64B35"/>
<line x1="547.4" y1="685.0" x2="549.9" y2="685.0" stroke="#1a1a1a" stroke-width="1"/>
<text x="545.0" y="688.8" font-size="10.5" text-anchor="end" font-weight="normal" fill="#1a1a1a" stroke="#1a1a1a" stroke-width="0.25" >GOLPDLCAT-PWY</text>
<circle cx="629.3" cy="685.0" r="3.2" fill="#4DBBD5"/>
<line x1="547.4" y1="695.7" x2="549.9" y2="695.7" stroke="#1a1a1a" stroke-width="1"/>
<text x="545.0" y="699.5" font-size="10.5" text-anchor="end" font-weight="normal" fill="#1a1a1a" stroke="#1a1a1a" stroke-width="0.25" >PWY-5659</text>
<circle cx="624.7" cy="695.7" r="3.2" fill="#E64B35"/>
<line x1="547.4" y1="706.4" x2="549.9" y2="706.4" stroke="#1a1a1a" stroke-width="1"/>
<text x="545.0" y="710.2" font-size="10.5" text-anchor="end" font-weight="normal" fill="#1a1a1a" stroke="#1a1a1a" stroke-width="0.25" >PWY-6263</text>
<circle cx="616.8" cy="706.4" r="3.2" fill="#E64B35"/>
<line x1="547.4" y1="717.2" x2="549.9" y2="717.2" stroke="#1a1a1a" stroke-width="1"/>
<text x="545.0" y="721.0" font-size="10.5" text-anchor="end" font-weight="normal" fill="#1a1a1a" stroke="#1a1a1a" stroke-width="0.25" >PWY0-41</text>
<circle cx="615.5" cy="717.2" r="3.2" fill="#4DBBD5"/>
<line x1="547.4" y1="727.9" x2="549.9" y2="727.9" stroke="#1a1a1a" stroke-width="1"/>
<text x="545.0" y="731.7" font-size="10.5" text-anchor="end" font-weight="normal" fill="#1a1a1a" stroke="#1a1a1a" stroke-width="0.25" >MET-SAM-PWY</text>
<circle cx="611.6" cy="727.9" r="3.2" fill="#4DBBD5"/>
<line x1="547.4" y1="738.7" x2="549.9" y2="738.7" stroke="#1a1a1a" stroke-width="1"/>
<text x="545.0" y="742.5" font-size="10.5" text-anchor="end" font-weight="normal" fill="#1a1a1a" stroke="#1a1a1a" stroke-width="0.25" >GALACTUROCAT-PWY</text>
<circle cx="610.7" cy="738.7" r="3.2" fill="#E64B35"/>
<line x1="547.4" y1="749.4" x2="549.9" y2="749.4" stroke="#1a1a1a" stroke-width="1"/>
<text x="545.0" y="753.2" font-size="10.5" text-anchor="end" font-weight="normal" fill="#1a1a1a" stroke="#1a1a1a" stroke-width="0.25" >PWY-7090</text>
<circle cx="596.1" cy="749.4" r="3.2" fill="#E64B35"/>
<line x1="547.4" y1="760.1" x2="549.9" y2="760.1" stroke="#1a1a1a" stroke-width="1"/>
<text x="545.0" y="763.9" font-size="10.5" text-anchor="end" font-weight="normal" fill="#1a1a1a" stroke="#1a1a1a" stroke-width="0.25" >HOMOSER-METSYN-PWY</text>
<circle cx="594.1" cy="760.1" r="3.2" fill="#4DBBD5"/>
<line x1="547.4" y1="770.9" x2="549.9" y2="770.9" stroke="#1a1a1a" stroke-width="1"/>
<text x="545.0" y="774.7" font-size="10.5" text-anchor="end" font-weight="normal" fill="#1a1a1a" stroke="#1a1a1a" stroke-width="0.25" >METHGLYUT-PWY</text>
<circle cx="568.3" cy="770.9" r="3.2" fill="#4DBBD5"/>
<line x1="547.4" y1="781.6" x2="549.9" y2="781.6" stroke="#1a1a1a" stroke-width="1"/>
<text x="545.0" y="785.4" font-size="10.5" text-anchor="end" font-weight="normal" fill="#1a1a1a" stroke="#1a1a1a" stroke-width="0.25" >PWY-7374</text>
<polyline points="549.5,420.8 549.5,787.5 750.7,787.5" fill="none" stroke="#000" stroke-width="1.1"/>
<line x1="559.3" y1="787.5" x2="559.3" y2="790.3" stroke="#1a1a1a" stroke-width="1"/>
<text x="559.3" y="799.4" font-size="10.4" text-anchor="middle" font-weight="normal" fill="#1a1a1a" stroke="#1a1a1a" stroke-width="0.25" >0.65</text>
<line x1="611.4" y1="787.5" x2="611.4" y2="790.3" stroke="#1a1a1a" stroke-width="1"/>
<text x="611.4" y="799.4" font-size="10.4" text-anchor="middle" font-weight="normal" fill="#1a1a1a" stroke="#1a1a1a" stroke-width="0.25" >0.75</text>
<line x1="663.6" y1="787.5" x2="663.6" y2="790.3" stroke="#1a1a1a" stroke-width="1"/>
<text x="663.6" y="799.4" font-size="10.4" text-anchor="middle" font-weight="normal" fill="#1a1a1a" stroke="#1a1a1a" stroke-width="0.25" >0.85</text>
<line x1="715.8" y1="787.5" x2="715.8" y2="790.3" stroke="#1a1a1a" stroke-width="1"/>
<text x="715.8" y="799.4" font-size="10.4" text-anchor="middle" font-weight="normal" fill="#1a1a1a" stroke="#1a1a1a" stroke-width="0.25" >0.95</text>
<text x="650.3" y="811.7" font-size="10.4" text-anchor="middle" font-weight="normal" fill="#1a1a1a" stroke="#1a1a1a" stroke-width="0.25" >The value of AUC</text>
<text x="435.6" y="416.2" font-size="14" text-anchor="start" font-weight="bold" fill="#000"  >D</text>
<text x="711.7" y="566.8" font-size="10.1" text-anchor="start" font-weight="normal" fill="#1a1a1a" stroke="#1a1a1a" stroke-width="0.25" >OR</text>
<circle cx="721.7" cy="583.2" r="3.3" fill="#E64B35"/>
<circle cx="721.7" cy="603.5" r="3.3" fill="#4DBBD5"/>
<text x="737.0" y="586.2" font-size="7.9" text-anchor="start" font-weight="normal" fill="#1a1a1a" stroke="#1a1a1a" stroke-width="0.25" >&gt;1</text>
<text x="737.0" y="606.5" font-size="7.9" text-anchor="start" font-weight="normal" fill="#1a1a1a" stroke="#1a1a1a" stroke-width="0.25" >&lt;1</text>
</svg></body></html>
